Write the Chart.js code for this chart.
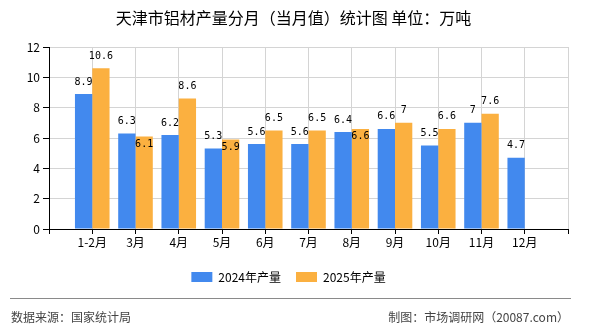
<!DOCTYPE html>
<html>
<head>
<meta charset="utf-8">
<script src="https://cdn.jsdelivr.net/npm/chart.js@4.4.1/dist/chart.umd.min.js"></script>
<style>
  body { margin: 0; background: #fff; }
  #wrap { position: relative; width: 590px; height: 330px; overflow: hidden; font-family: "Noto Sans CJK SC", sans-serif; }
  #chart { position: absolute; left: 0; top: 0; }
  #title { position: absolute; left: 0; width: 587px; top: 7px; line-height: 20px; text-align: center; font-size: 16px; color: #000; }
  #rule { position: absolute; left: 10px; width: 561px; top: 298px; border-top: 1px solid #8a8a8a; }
  .foot { position: absolute; top: 309px; line-height: 16px; font-size: 12px; color: #444; }
  #source { left: 11px; }
  #maker { right: 21px; }
</style>
</head>
<body>
<div id="wrap">
  <canvas id="chart" width="590" height="330"></canvas>
  <div id="title">天津市铝材产量分月（当月值）统计图 单位：万吨</div>
  <div id="rule"></div>
  <div class="foot" id="source">数据来源：国家统计局</div>
  <div class="foot" id="maker">制图：市场调研网（20087.com）</div>
</div>
<script>
// 月份
const months = ['1-2月', '3月', '4月', '5月', '6月', '7月', '8月', '9月', '10月', '11月', '12月'];
// 产量（万吨）
const output2024 = [8.9, 6.3, 6.2, 5.3, 5.6, 5.6, 6.4, 6.6, 5.5, 7, 4.7];
const output2025 = [10.6, 6.1, 8.6, 5.9, 6.5, 6.5, 6.6, 7, 6.6, 7.6, null];
const seriesNames = ['2024年产量', '2025年产量'];
const yMin = 0;
const yMax = 12;
const yStep = 2;

// 两端各留一个空位，让月份落在网格线上
const labels = ['', ...months, ''];
const pad = arr => [null, ...arr, null];

const valueLabels = {
  id: 'valueLabels',
  afterDatasetsDraw(chart) {
    const ctx = chart.ctx;
    ctx.save();
    ctx.font = '10px "DejaVu Sans Mono", monospace';
    ctx.fillStyle = '#000';
    ctx.textAlign = 'center';
    ctx.textBaseline = 'middle';
    const placed = [];
    chart.data.datasets.forEach((ds, di) => {
      const meta = chart.getDatasetMeta(di);
      meta.data.forEach((bar, i) => {
        const v = ds.data[i];
        if (v == null) return;
        const text = String(v);
        const w = ctx.measureText(text).width;
        let y = bar.y - 12;
        const box = { l: bar.x - w / 2 - 1, r: bar.x + w / 2 + 1, t: y - 6, b: y + 6 };
        const hit = placed.some(p => p.l < box.r && p.r > box.l && p.t < box.b && p.b > box.t);
        if (hit) y = bar.y + 8;   // 标签重叠时放到柱顶下方
        placed.push({ l: box.l, r: box.r, t: y - 6, b: y + 6 });
        ctx.fillText(text, bar.x, y);
      });
    });
    ctx.restore();
  }
};

new Chart(document.getElementById('chart'), {
  type: 'bar',
  data: {
    labels: labels,
    datasets: [
      { label: seriesNames[0], data: pad(output2024), backgroundColor: '#4289ee' },
      { label: seriesNames[1], data: pad(output2025), backgroundColor: '#fbb040' }
    ]
  },
  options: {
    responsive: false,
    animation: false,
    events: [],
    datasets: { bar: { categoryPercentage: 0.8, barPercentage: 1.0 } },
    layout: { padding: { left: 9, right: 22, top: 47, bottom: 37 } },
    plugins: {
      legend: {
        position: 'bottom',
        labels: {
          boxWidth: 21,
          boxHeight: 10,
          padding: 15,
          color: '#000',
          font: { family: '"Noto Sans CJK SC", sans-serif', size: 12 }
        }
      },
      tooltip: { enabled: false }
    },
    scales: {
      x: {
        offset: false,
        afterFit: s => { s.height = 27; },
        grid: { offset: false, color: '#d4d4d4', tickColor: '#000', tickLength: 5 },
        border: { color: '#000' },
        ticks: {
          autoSkip: false,
          maxRotation: 0,
          padding: 1,
          color: '#000',
          font: { family: '"Noto Sans CJK SC", sans-serif', size: 12 }
        }
      },
      y: {
        min: yMin,
        max: yMax,
        afterFit: s => { s.width = 40; },
        grid: { color: '#d4d4d4', tickColor: '#000', tickLength: 6 },
        border: { color: '#000' },
        ticks: {
          stepSize: yStep,
          padding: 3,
          color: '#000',
          font: { family: '"Noto Sans CJK SC", sans-serif', size: 12 }
        }
      }
    }
  },
  plugins: [valueLabels]
});
</script>
</body>
</html>
